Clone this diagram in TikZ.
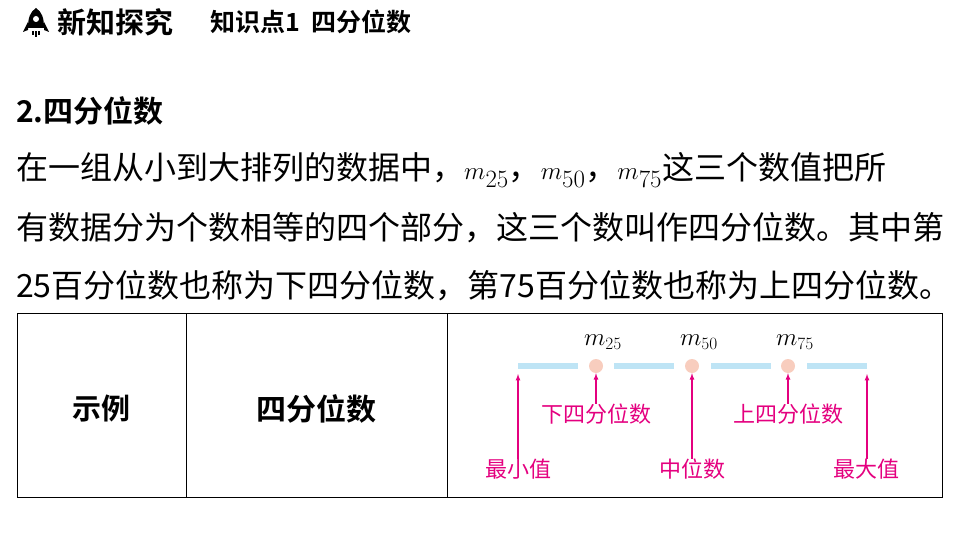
\documentclass[tikz,border=0pt]{standalone}
\usepackage{fontspec}
\newfontfamily\cjk{Noto Sans CJK SC}
\newfontfamily\cjkb{Noto Sans CJK SC Bold}
\definecolor{mag}{RGB}{228,0,127}
\definecolor{barc}{RGB}{190,228,245}
\definecolor{dotc}{RGB}{248,205,190}
\newcommand{\mqq}[1]{{\fontsize{40}{40}\selectfont$m_{#1}$}}
\begin{document}
\begin{tikzpicture}[x=1pt,y=-1pt,
  bar/.style={draw=barc,line width=6pt},
  dot/.style={circle,fill=dotc,minimum size=14pt,inner sep=0pt},
  arr/.style={mag,line width=1.2pt,-latex},
  lab/.style={mag,font=\cjk\fontsize{22}{22}\selectfont,inner sep=0pt},
  txt/.style={anchor=west,inner sep=0pt,font=\cjk\fontsize{32}{32}\selectfont}]
\useasboundingbox (0,0) rectangle (960,540);
% header
\fill (36,8) .. controls (42,12) and (44,18) .. (44,28) -- (28,28) .. controls (28,18) and (30,12) .. (36,8) -- cycle;
\fill (28,22) -- (23,32) -- (28,30) -- cycle;
\fill (44,22) -- (49,32) -- (44,30) -- cycle;
\fill[white] (36,19) circle (3);
\fill (32,31) rectangle (34,35); \fill (35,31) rectangle (37,37); \fill (38,31) rectangle (40,35);
\node[anchor=west,inner sep=0pt,font=\cjkb\fontsize{29}{29}\selectfont] (h1) at (57,22) {新知探究};
\node[anchor=west,inner sep=0pt,font=\cjkb\fontsize{25}{25}\selectfont] (h2) at (210,22) {知识点1\hspace{12pt}四分位数};
% text
\node[anchor=west,inner sep=0pt,font=\cjkb\fontsize{30}{30}\selectfont] (t0) at (16,111) {2.四分位数};
\node[txt] (l1) at (16,170) {在一组从小到大排列的数据中，\mqq{25}，\mqq{50}，\mqq{75}这三个数值把所};
\node[txt] (l2) at (16,228) {有数据分为个数相等的四个部分，这三个数叫作四分位数。其中第};
\node[txt] (l3) at (16,286) {25百分位数也称为下四分位数，第75百分位数也称为上四分位数。};
% table
\draw[line width=0.8pt] (17,313) rectangle (942,497);
\draw[line width=0.8pt] (186,313) -- (186,497) (447,313) -- (447,497);
\node[font=\cjkb\fontsize{29}{29}\selectfont] (c1) at (101,409) {示例};
\node[font=\cjkb\fontsize{30}{30}\selectfont] (c2) at (316,409) {四分位数};
% diagram
\draw[bar] (518,366) -- (578,366);
\draw[bar] (614,366) -- (674,366);
\draw[bar] (711,366) -- (771,366);
\draw[bar] (807,366) -- (867,366);
\node[dot] (d1) at (596,366) {};
\node[dot] (d2) at (692,366) {};
\node[dot] (d3) at (788,366) {};
\node[font=\fontsize{23}{23}\selectfont] (m1) at (603,342) {$m_{25}$};
\node[font=\fontsize{23}{23}\selectfont] (m2) at (699,342) {$m_{50}$};
\node[font=\fontsize{23}{23}\selectfont] (m3) at (795,342) {$m_{75}$};
\coordinate (e1) at (518,374);
\coordinate (e4) at (867,374);
\node[lab] (L1) at (518,469) {最小值};
\node[lab] (L2) at (692,469) {中位数};
\node[lab] (L3) at (866,469) {最大值};
\node[lab] (Q1) at (596,414) {下四分位数};
\node[lab] (Q3) at (788,414) {上四分位数};
\draw[arr] (L1.north -| e1) -- (e1);
\draw[arr] (L2.north) -- (d2.south);
\draw[arr] (L3.north -| e4) -- (e4);
\draw[arr] (Q1.north) -- (d1.south);
\draw[arr] (Q3.north) -- (d3.south);
\end{tikzpicture}
\end{document}
